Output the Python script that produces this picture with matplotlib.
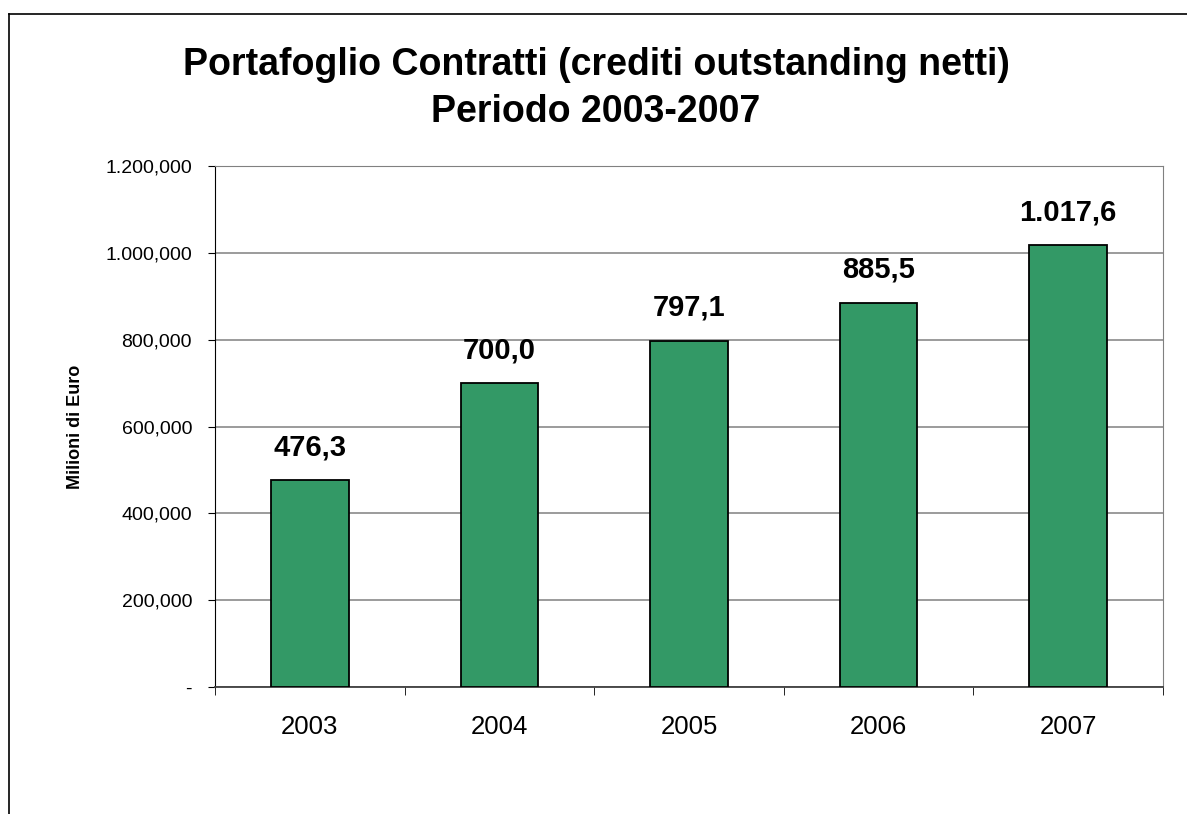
import matplotlib
matplotlib.use("Agg")
import matplotlib.pyplot as plt
from matplotlib.ticker import FixedLocator
from matplotlib.lines import Line2D

years = ["2003", "2004", "2005", "2006", "2007"]
values = [476300, 700000, 797100, 885500, 1017600]
value_labels = ["476,3", "700,0", "797,1", "885,5", "1.017,6"]
y_ticks = [0, 200000, 400000, 600000, 800000, 1000000, 1200000]
y_tick_labels = ["-", "200,000", "400,000", "600,000", "800,000", "1.000,000", "1.200,000"]

plt.rcParams['font.family'] = ['Liberation Sans', 'DejaVu Sans']

W, H = 1187, 814
fig = plt.figure(figsize=(W / 100, H / 100), dpi=100)
ax = fig.add_axes([215 / W, 1 - 687 / H, (1163 - 215) / W, (687 - 166) / H])

x = list(range(len(years)))
ax.bar(x, values, width=0.41, color="#339966", edgecolor="black", linewidth=1.3, zorder=3)
for xi, v, lab in zip(x, values, value_labels):
    ax.annotate(lab, (xi, v), xytext=(0, 18), textcoords="offset points",
                ha="center", va="baseline", fontsize=21, fontweight="bold")

ax.set_xlim(-0.5, len(years) - 0.5)
ax.set_ylim(0, 1200000)
ax.set_yticks(y_ticks)
ax.set_yticklabels(y_tick_labels, fontsize=14)
ax.yaxis.grid(True, color="#808080", linewidth=1.1, zorder=0)
ax.set_axisbelow(True)

ax.set_xticks(x)
ax.set_xticklabels(years, fontsize=18.5)
ax.xaxis.set_minor_locator(FixedLocator([i - 0.5 for i in range(len(years) + 1)]))
ax.tick_params(axis="x", which="major", length=0, pad=20)
ax.tick_params(axis="x", which="minor", length=6, direction="out", color="black")
ax.tick_params(axis="y", length=5, direction="out", pad=11.5)

ax.spines["left"].set_color("black")
ax.spines["bottom"].set_color("#404040")
ax.spines["bottom"].set_linewidth(1.3)
ax.spines["top"].set_color("#808080")
ax.spines["right"].set_color("#808080")

ax.set_ylabel("Milioni di Euro", fontsize=13, fontweight="bold")
ax.yaxis.set_label_coords((75 - 215) / (1163 - 215), 0.5)
ax.yaxis.label.set_va("center")

fig.text(596 / W, 1 - 75 / H, "Portafoglio Contratti (crediti outstanding netti)",
         ha="center", va="baseline", fontsize=27, fontweight="bold")
fig.text(596 / W, 1 - 122 / H, "Periodo 2003-2007",
         ha="center", va="baseline", fontsize=27, fontweight="bold")

# outer chart border (left and top edges visible)
fig.add_artist(Line2D([9 / W, 9 / W], [0, 1 - 14 / H], transform=fig.transFigure, color="black", linewidth=1.2))
fig.add_artist(Line2D([9 / W, 1], [1 - 14 / H, 1 - 14 / H], transform=fig.transFigure, color="black", linewidth=1.2))

fig.savefig("out.png", dpi=100)
